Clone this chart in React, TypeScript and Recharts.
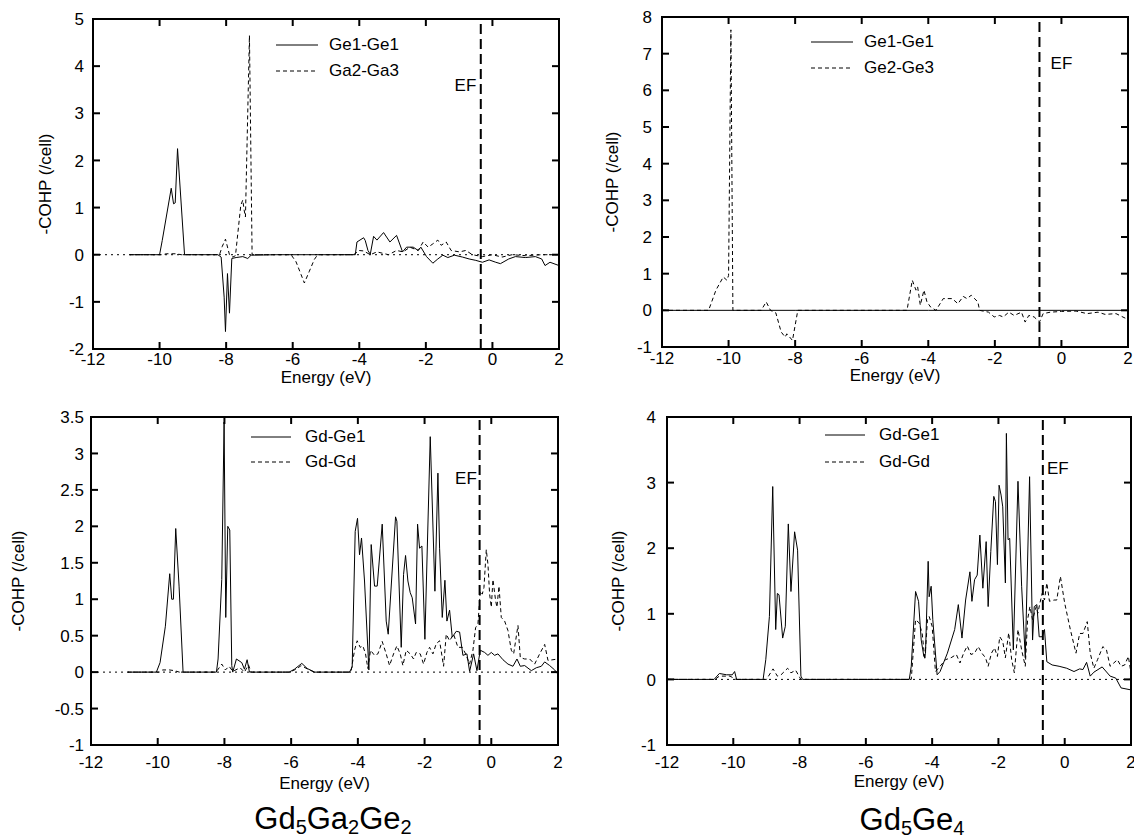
import { LineChart, Line, XAxis, YAxis, ReferenceLine, ReferenceDot, ReferenceArea, Legend } from 'recharts';

const FONT = '"Liberation Sans", Arial, Helvetica, sans-serif';
const FS = 17;

// axis ticks
const energyTicks = [-12, -10, -8, -6, -4, -2, 0, 2];
const gaTopTicks = [-2, -1, 0, 1, 2, 3, 4, 5];
const geTopTicks = [-1, 0, 1, 2, 3, 4, 5, 6, 7, 8];
const gaBottomTicks = [-1, -0.5, 0, 0.5, 1, 1.5, 2, 2.5, 3, 3.5];
const geBottomTicks = [-1, 0, 1, 2, 3, 4];

// Fermi levels (eV)
const efGa = -0.35;
const efGe = -0.66;

// [energy, -COHP]
// Gd5Ga2Ge2, top
const gaGe1Ge1 = [
  [-10.9, 0], [-10.0, 0], [-9.92, 0.3], [-9.65, 1.41], [-9.58, 1.08], [-9.53, 1.1], [-9.46, 2.25], [-9.25, 0],
  [-8.25, 0], [-8.15, -0.05], [-8.06, -0.9], [-8.02, -1.63], [-7.96, -0.4], [-7.9, -1.24], [-7.83, -0.08],
  [-7.7, -0.06], [-7.5, -0.04], [-7.35, -0.08], [-7.25, -0.01], [-6.5, 0], [-4.2, 0], [-4.12, 0],
  [-4.07, 0.27], [-3.87, 0.36], [-3.82, 0.3], [-3.74, 0.09], [-3.67, 0.01], [-3.57, 0.39], [-3.47, 0.31],
  [-3.27, 0.47], [-3.08, 0.27], [-2.88, 0.41], [-2.7, 0.06], [-2.58, 0.16], [-2.38, 0.16], [-2.23, 0.09],
  [-2.15, 0.16], [-1.98, -0.04], [-1.79, -0.18], [-1.64, -0.09], [-1.49, -0.01], [-1.34, -0.06],
  [-1.14, -0.01], [-0.9, -0.05], [-0.7, -0.09], [-0.5, -0.12], [-0.3, -0.16], [-0.1, -0.11], [0.1, -0.16],
  [0.24, -0.19], [0.49, -0.09], [0.69, -0.04], [0.99, -0.06], [1.29, -0.04], [1.48, -0.09], [1.58, -0.23],
  [1.73, -0.16], [2.0, -0.23],
];
const gaGa2Ga3 = [
  [-10.9, 0], [-9.9, 0], [-9.8, 0.02], [-9.5, 0.02], [-9.35, 0], [-8.2, 0], [-8.12, 0.17], [-8.02, 0.33],
  [-7.9, 0], [-7.8, -0.05], [-7.72, -0.02], [-7.56, 1.05], [-7.5, 1.16], [-7.46, 0.95], [-7.42, 0.8],
  [-7.3, 4.65], [-7.22, 0], [-6.05, 0], [-5.9, -0.15], [-5.75, -0.42], [-5.65, -0.6], [-5.5, -0.35],
  [-5.35, -0.1], [-5.25, 0], [-4.2, 0], [-4.12, 0.02], [-4.02, 0.09], [-3.87, 0.08], [-3.67, 0],
  [-3.47, 0.06], [-3.12, 0], [-2.88, 0.09], [-2.68, 0.06], [-2.48, 0.16], [-2.23, 0.09], [-2.08, 0.27],
  [-1.93, 0.16], [-1.79, 0.23], [-1.64, 0.31], [-1.54, 0.2], [-1.39, 0.27], [-1.24, 0.09], [-0.99, 0.06],
  [-0.8, 0.09], [-0.6, 0], [-0.3, -0.04], [0, 0], [0.29, -0.05], [0.59, 0], [0.99, -0.02], [1.48, 0], [2.0, 0],
];

// Gd5Ge4, top
const geGe1Ge1 = [[-12, 0], [-8, 0], [-4, 0], [0, 0], [2, 0]];
const geGe2Ge3 = [
  [-12, 0], [-10.6, 0], [-10.38, 0.55], [-10.16, 0.91], [-10.05, 0.82], [-10.0, 0.95], [-9.93, 7.65],
  [-9.87, 0], [-9.02, 0], [-8.87, 0.23], [-8.74, 0], [-8.58, -0.07], [-8.42, -0.59], [-8.3, -0.73],
  [-8.25, -0.64], [-8.08, -0.82], [-7.92, 0], [-4.64, 0], [-4.48, 0.82], [-4.37, 0.55], [-4.32, 0.64],
  [-4.24, 0.14], [-4.13, 0.55], [-4.04, 0.23], [-3.93, 0.09], [-3.77, 0], [-3.55, 0.32], [-3.28, 0.32],
  [-3.11, 0.18], [-2.95, 0.38], [-2.84, 0.32], [-2.71, 0.41], [-2.51, 0.23], [-2.46, 0], [-2.19, -0.05],
  [-2.02, -0.18], [-1.86, -0.14], [-1.75, -0.18], [-1.58, -0.05], [-1.42, -0.14], [-1.2, -0.05],
  [-1.09, -0.32], [-0.98, -0.14], [-0.82, -0.18], [-0.66, -0.32], [-0.55, -0.09], [-0.33, -0.05],
  [0, -0.03], [0.44, -0.02], [0.77, -0.09], [1.1, -0.05], [1.31, -0.11], [1.64, -0.09], [2.0, -0.25],
];

// Gd5Ga2Ge2, bottom
const gaGdGe1 = [
  [-10.9, 0], [-10.04, 0], [-9.93, 0.13], [-9.77, 0.63], [-9.64, 1.35], [-9.58, 1.0], [-9.53, 1.0],
  [-9.46, 1.97], [-9.36, 1.18], [-9.24, 0], [-8.24, 0], [-8.19, 0.18], [-8.08, 1.27], [-8.01, 3.43],
  [-7.96, 0.75], [-7.9, 2.0], [-7.84, 1.95], [-7.78, 0.09], [-7.75, 0], [-7.64, 0.18], [-7.48, 0.13],
  [-7.4, 0.04], [-7.32, 0.17], [-7.25, 0], [-6.06, 0], [-5.9, 0.04], [-5.68, 0.12], [-5.52, 0.05],
  [-5.3, 0], [-4.25, 0], [-4.17, 0.07], [-4.08, 1.93], [-4.01, 2.11], [-3.95, 1.61], [-3.89, 1.84],
  [-3.8, 1.25], [-3.67, 0.03], [-3.6, 1.75], [-3.5, 1.18], [-3.42, 1.18], [-3.27, 2.03], [-3.15, 0.7],
  [-3.09, 0.52], [-2.87, 2.13], [-2.83, 2.07], [-2.7, 0.34], [-2.63, 1.34], [-2.57, 1.6], [-2.5, 1.25],
  [-2.43, 1.09], [-2.37, 1.02], [-2.27, 0.66], [-2.21, 2.03], [-2.15, 1.7], [-2.08, 1.73], [-1.99, 0.45],
  [-1.83, 3.23], [-1.69, 1.11], [-1.6, 2.73], [-1.55, 1.7], [-1.47, 0.75], [-1.39, 1.26], [-1.33, 0.7],
  [-1.25, 0.85], [-1.17, 0.48], [-1.05, 0.56], [-0.95, 0.55], [-0.85, 0.23], [-0.73, 0.25], [-0.65, 0.01],
  [-0.53, 0.25], [-0.43, 0.02], [-0.33, 0.3], [-0.2, 0.27], [-0.1, 0.23], [0, 0.27], [0.1, 0.23],
  [0.2, 0.25], [0.35, 0.17], [0.5, 0.11], [0.65, 0.08], [0.77, 0.18], [0.87, 0.08], [1.0, 0.09],
  [1.2, 0.02], [1.35, 0.06], [1.5, 0.08], [1.6, 0.14], [1.75, 0.09], [1.9, 0.03], [2.0, -0.03],
];
const gaGdGd = [
  [-10.9, 0], [-9.95, 0], [-9.85, 0.03], [-9.65, 0.03], [-9.5, 0.02], [-9.35, 0], [-8.25, 0], [-8.08, 0.11],
  [-7.97, 0.03], [-7.86, 0.08], [-7.75, 0.01], [-7.53, 0.06], [-7.4, 0], [-7.28, 0.1], [-7.2, 0], [-6.05, 0],
  [-5.85, 0.04], [-5.7, 0.09], [-5.5, 0.04], [-5.3, 0], [-4.25, 0], [-4.2, 0.02], [-4.1, 0.3], [-4.02, 0.43],
  [-3.93, 0.34], [-3.85, 0.36], [-3.77, 0.25], [-3.7, 0.05], [-3.62, 0.3], [-3.5, 0.23], [-3.4, 0.25],
  [-3.27, 0.42], [-3.15, 0.25], [-3.05, 0.09], [-2.93, 0.25], [-2.83, 0.36], [-2.73, 0.25], [-2.65, 0.09],
  [-2.55, 0.3], [-2.43, 0.25], [-2.33, 0.18], [-2.25, 0.27], [-2.13, 0.25], [-2.03, 0.11], [-1.93, 0.27],
  [-1.85, 0.34], [-1.75, 0.25], [-1.65, 0.39], [-1.55, 0.43], [-1.43, 0.08], [-1.35, 0.52], [-1.25, 0.43],
  [-1.13, 0.52], [-1.0, 0.34], [-0.87, 0.34], [-0.77, 0.25], [-0.65, 0.11], [-0.55, 0.3], [-0.47, 0.61],
  [-0.4, 0.66], [-0.33, 1.11], [-0.27, 1.07], [-0.22, 1.16], [-0.15, 1.68], [-0.1, 1.48], [-0.05, 1.07],
  [0, 0.89], [0.05, 1.27], [0.13, 0.98], [0.17, 0.89], [0.23, 1.18], [0.3, 0.75], [0.4, 0.7], [0.5, 0.57],
  [0.6, 0.3], [0.67, 0.25], [0.8, 0.64], [0.87, 0.2], [1.0, 0.18], [1.15, 0.18], [1.3, 0.11], [1.45, 0.25],
  [1.6, 0.38], [1.7, 0.16], [1.85, 0.17], [2.0, 0.18],
];

// Gd5Ge4, bottom
const geGdGe1 = [
  [-12, 0], [-10.58, 0], [-10.42, 0.09], [-10.2, 0.07], [-10.03, 0.07], [-9.96, 0.12], [-9.9, 0], [-9.1, 0],
  [-9.02, 0.3], [-8.91, 0.96], [-8.81, 2.94], [-8.72, 0.76], [-8.67, 1.31], [-8.62, 1.29], [-8.51, 0.63],
  [-8.43, 0.81], [-8.34, 2.37], [-8.26, 1.34], [-8.15, 2.25], [-8.06, 1.97], [-7.96, 0.05], [-7.91, 0],
  [-4.69, 0], [-4.63, 0.2], [-4.5, 1.34], [-4.41, 1.19], [-4.33, 0.6], [-4.25, 0.35], [-4.2, 0.4],
  [-4.12, 1.8], [-4.09, 1.26], [-4.03, 1.42], [-3.98, 0.91], [-3.85, 0.07], [-3.76, 0.12], [-3.54, 0.4],
  [-3.32, 0.76], [-3.21, 1.14], [-3.1, 0.63], [-2.99, 1.21], [-2.86, 1.64], [-2.8, 1.19], [-2.72, 1.52],
  [-2.64, 1.59], [-2.56, 2.2], [-2.47, 1.39], [-2.37, 2.1], [-2.31, 1.11], [-2.23, 1.95], [-2.14, 2.79],
  [-2.09, 2.71], [-2.03, 1.75], [-1.98, 2.96], [-1.92, 2.81], [-1.87, 2.63], [-1.79, 1.47], [-1.76, 3.75],
  [-1.71, 2.13], [-1.66, 2.15], [-1.55, 0.45], [-1.41, 3.02], [-1.3, 1.42], [-1.19, 0.33], [-1.06, 3.09],
  [-0.97, 0.6], [-0.92, 1.11], [-0.84, 1.14], [-0.77, 0.65], [-0.68, 0.65], [-0.61, 0.76], [-0.54, 0.27],
  [-0.38, 0.22], [-0.17, 0.2], [0.06, 0.17], [0.28, 0.12], [0.45, 0.16], [0.55, 0.15], [0.66, 0.26],
  [0.77, 0.05], [0.88, 0.11], [1.13, 0.19], [1.37, 0.05], [1.54, 0.02], [1.7, -0.13], [2.0, -0.16],
];
const geGdGd = [
  [-12, 0], [-10.55, 0], [-10.42, 0.05], [-10.1, 0.05], [-9.92, 0], [-9.0, 0], [-8.8, 0.16], [-8.67, 0.05],
  [-8.56, 0.07], [-8.36, 0.17], [-8.26, 0.1], [-8.12, 0.14], [-7.96, 0], [-4.63, 0], [-4.5, 0.91],
  [-4.39, 0.86], [-4.3, 0.7], [-4.22, 0.3], [-4.14, 0.91], [-4.09, 0.96], [-4.0, 0.81], [-3.9, 0.12],
  [-3.76, 0.2], [-3.6, 0.3], [-3.43, 0.33], [-3.27, 0.38], [-3.16, 0.25], [-3.05, 0.4], [-2.94, 0.51],
  [-2.83, 0.38], [-2.72, 0.4], [-2.61, 0.5], [-2.5, 0.4], [-2.39, 0.33], [-2.31, 0.2], [-2.21, 0.4],
  [-2.12, 0.48], [-2.03, 0.35], [-1.96, 0.65], [-1.87, 0.58], [-1.79, 0.33], [-1.69, 0.71], [-1.6, 0.3],
  [-1.52, 0.1], [-1.41, 0.76], [-1.3, 0.45], [-1.19, 0.2], [-1.12, 0.91], [-1.05, 1.11], [-0.97, 0.91],
  [-0.86, 1.11], [-0.81, 1.01], [-0.75, 1.16], [-0.68, 1.31], [-0.61, 1.21], [-0.54, 1.47], [-0.46, 1.19],
  [-0.32, 1.21], [-0.24, 1.21], [-0.13, 1.57], [0, 1.16], [0.17, 0.76], [0.34, 0.4], [0.45, 0.7],
  [0.55, 0.7], [0.68, 0.88], [0.77, 0.4], [0.88, 0.17], [0.99, 0.3], [1.15, 0.5], [1.26, 0.45],
  [1.37, 0.2], [1.48, 0.25], [1.59, 0.3], [1.7, 0.2], [1.81, 0.22], [1.92, 0.35], [2.0, 0.1],
];

const toPts = (rows: number[][]) => rows.map(([e, v]) => ({ e, v }));

const DASH = '4 3';
const TICK_LEN = 7;

interface PanelCfg {
  left: number;
  top: number;
  width: number;
  height: number;
  plot: [number, number, number, number];
  yDomain: [number, number];
  yTicks: number[];
  solid: number[][];
  dashed: number[][];
  names: [string, string];
  ef: number;
  efAt: [number, number];
  legendAt: [number, number];
  rowH: number;
  sample: number;
  textGap: number;
  yLabelX: number;
  xTickGap: number;
  yTickGap: number;
  xLabelGap: number;
  zeroDots: boolean;
}

// bottom tick: inward mark at the bottom and mirrored mark at the top edge
const bottomTick = (gap: number, plotH: number) => (props: any) => {
  const { x, y, payload } = props;
  return (
    <g>
      <line x1={x} y1={y} x2={x} y2={y - TICK_LEN} stroke="#000" strokeWidth={2} />
      <line x1={x} y1={y - plotH} x2={x} y2={y - plotH + TICK_LEN} stroke="#000" strokeWidth={2} />
      <text x={x} y={y + gap} textAnchor="middle" fontSize={FS} fill="#000">
        {payload.value}
      </text>
    </g>
  );
};

// left tick: inward mark at the left and mirrored mark at the right edge
const leftTick = (gap: number, plotW: number) => (props: any) => {
  const { x, y, payload } = props;
  return (
    <g>
      <line x1={x} y1={y} x2={x + TICK_LEN} y2={y} stroke="#000" strokeWidth={2} />
      <line x1={x + plotW} y1={y} x2={x + plotW - TICK_LEN} y2={y} stroke="#000" strokeWidth={2} />
      <text x={x - gap} y={y} dy="0.36em" textAnchor="end" fontSize={FS} fill="#000">
        {payload.value}
      </text>
    </g>
  );
};

const LegendBox = ({ cfg }: { cfg: PanelCfg }) => (
  <div style={{ fontFamily: FONT, fontSize: FS, color: '#000' }}>
    {cfg.names.map((n, i) => (
      <div key={n} style={{ display: 'flex', alignItems: 'center', height: cfg.rowH }}>
        <svg width={cfg.sample} height={4} style={{ display: 'block' }}>
          <line x1={0} y1={2} x2={cfg.sample} y2={2} stroke="#000" strokeWidth={1} strokeDasharray={i ? DASH : undefined} />
        </svg>
        <span style={{ marginLeft: cfg.textGap, whiteSpace: 'nowrap' }}>{n}</span>
      </div>
    ))}
  </div>
);

const Panel = ({ cfg }: { cfg: PanelCfg }) => {
  const [px, py, pw, ph] = cfg.plot;
  const yW = px - (cfg.yLabelX - 5);
  const xH = cfg.xLabelGap + 5;
  const margin = {
    top: py,
    left: cfg.yLabelX - 5,
    right: cfg.width - (px + pw),
    bottom: cfg.height - (py + ph) - xH,
  };
  return (
    <div style={{ position: 'absolute', left: cfg.left, top: cfg.top }}>
      <LineChart width={cfg.width} height={cfg.height} margin={margin}>
        <XAxis
          dataKey="e"
          type="number"
          domain={[-12, 2]}
          ticks={energyTicks}
          allowDataOverflow
          interval={0}
          height={xH}
          tickSize={0}
          tickMargin={0}
          tickLine={false}
          axisLine={false}
          tick={bottomTick(cfg.xTickGap, ph)}
          label={{ value: 'Energy (eV)', position: 'insideBottom', offset: 5, fontSize: FS, fill: '#000' }}
        />
        <YAxis
          type="number"
          domain={cfg.yDomain}
          ticks={cfg.yTicks}
          allowDataOverflow
          interval={0}
          width={yW}
          tickSize={0}
          tickMargin={0}
          tickLine={false}
          axisLine={false}
          tick={leftTick(cfg.yTickGap, pw)}
          label={{
            value: '-COHP (/cell)',
            angle: -90,
            position: 'insideLeft',
            offset: 5,
            fontSize: FS,
            fill: '#000',
            style: { textAnchor: 'middle' },
          }}
        />
        {cfg.zeroDots && <ReferenceLine y={0} stroke="#000" strokeWidth={1} strokeDasharray="2 4" />}
        <Line
          data={toPts(cfg.solid)}
          dataKey="v"
          name={cfg.names[0]}
          type="linear"
          stroke="#000"
          strokeWidth={1}
          dot={false}
          isAnimationActive={false}
        />
        <Line
          data={toPts(cfg.dashed)}
          dataKey="v"
          name={cfg.names[1]}
          type="linear"
          stroke="#000"
          strokeWidth={1}
          strokeDasharray={DASH}
          dot={false}
          isAnimationActive={false}
        />
        <ReferenceLine x={cfg.ef} stroke="#000" strokeWidth={2} strokeDasharray="10 5" />
        <ReferenceArea
          x1={-12}
          x2={2}
          y1={cfg.yDomain[0]}
          y2={cfg.yDomain[1]}
          ifOverflow="visible"
          fill="none"
          fillOpacity={0}
          stroke="#000"
          strokeWidth={2}
          strokeOpacity={1}
        />
        <ReferenceDot
          x={cfg.efAt[0]}
          y={cfg.efAt[1]}
          r={0}
          fill="none"
          stroke="none"
          label={{ value: 'EF', position: 'center', fontSize: FS, fill: '#000' }}
        />
        <Legend
          layout="vertical"
          align="center"
          verticalAlign="middle"
          content={() => <LegendBox cfg={cfg} />}
          wrapperStyle={{ left: cfg.legendAt[0], top: cfg.legendAt[1], width: 220, height: cfg.rowH * 2 }}
        />
      </LineChart>
    </div>
  );
};

const panels: PanelCfg[] = [
  {
    left: 0, top: 0, width: 567, height: 400, plot: [93, 19, 466, 330],
    yDomain: [-2, 5], yTicks: gaTopTicks, solid: gaGe1Ge1, dashed: gaGa2Ga3, names: ['Ge1-Ge1', 'Ga2-Ga3'],
    ef: efGa, efAt: [-0.81, 3.6], legendAt: [276, 32], rowH: 26, sample: 42, textGap: 11,
    yLabelX: 45, xTickGap: 16, yTickGap: 9, xLabelGap: 34, zeroDots: true,
  },
  {
    left: 567, top: 0, width: 567, height: 400, plot: [95, 17, 466, 330],
    yDomain: [-1, 8], yTicks: geTopTicks, solid: geGe1Ge1, dashed: geGe2Ge3, names: ['Ge1-Ge1', 'Ge2-Ge3'],
    ef: efGe, efAt: [0.0, 6.76], legendAt: [244, 29], rowH: 26, sample: 42, textGap: 11,
    yLabelX: 45, xTickGap: 17, yTickGap: 10, xLabelGap: 34, zeroDots: false,
  },
  {
    left: 0, top: 400, width: 567, height: 438, plot: [91, 17, 467, 328],
    yDomain: [-1, 3.5], yTicks: gaBottomTicks, solid: gaGdGe1, dashed: gaGdGd, names: ['Gd-Ge1', 'Gd-Gd'],
    ef: efGa, efAt: [-0.76, 2.66], legendAt: [251, 24], rowH: 25, sample: 40, textGap: 14,
    yLabelX: 18, xTickGap: 23, yTickGap: 7, xLabelGap: 44, zeroDots: true,
  },
  {
    left: 567, top: 400, width: 567, height: 438, plot: [100, 17, 464, 328],
    yDomain: [-1, 4], yTicks: geBottomTicks, solid: geGdGe1, dashed: geGdGd, names: ['Gd-Ge1', 'Gd-Gd'],
    ef: efGe, efAt: [-0.21, 3.23], legendAt: [258, 21], rowH: 27, sample: 40, textGap: 14,
    yLabelX: 51, xTickGap: 23, yTickGap: 11, xLabelGap: 42, zeroDots: true,
  },
];

const subStyle = { fontSize: 20, position: 'relative', top: 5 } as const;

export default function App() {
  return (
    <div
      style={{
        position: 'absolute',
        left: 0,
        top: 0,
        width: 1134,
        height: 838,
        background: '#fff',
        fontFamily: FONT,
        color: '#000',
        overflow: 'hidden',
      }}
    >
      {panels.map((p, i) => (
        <Panel key={i} cfg={p} />
      ))}
      <div style={{ position: 'absolute', left: 183, width: 300, top: 804, textAlign: 'center', fontSize: 31, lineHeight: '30px' }}>
        Gd<span style={subStyle}>5</span>Ga<span style={subStyle}>2</span>Ge<span style={subStyle}>2</span>
      </div>
      <div style={{ position: 'absolute', left: 762, width: 300, top: 805, textAlign: 'center', fontSize: 31, lineHeight: '30px' }}>
        Gd<span style={subStyle}>5</span>Ge<span style={subStyle}>4</span>
      </div>
    </div>
  );
}
